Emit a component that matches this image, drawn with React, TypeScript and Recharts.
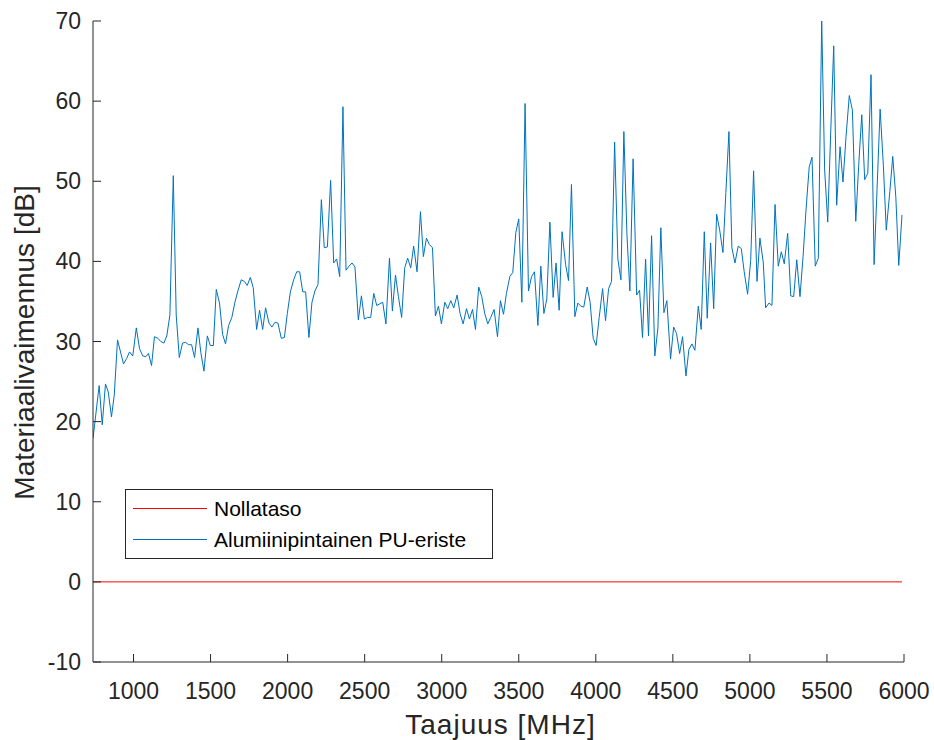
import { Label, Legend, Line, LineChart, XAxis, YAxis } from "recharts";

const BLUE = "#0072BD";
const RED = "#FF0000";
const INK = "#262626";
const FONT = "'Liberation Sans', Arial, Helvetica, sans-serif";

// Taajuus [MHz]
const freqs = [
  737, 777, 797, 818, 836, 857, 875, 896, 935, 956, 974, 995, 1018, 1039, 1060, 1080, 1097, 1117, 1136, 1158,
  1177, 1197, 1216, 1236, 1258, 1277, 1297, 1318, 1338, 1357, 1377, 1396, 1418, 1437, 1457, 1479, 1498, 1518, 1537, 1558,
  1578, 1597, 1617, 1638, 1658, 1677, 1699, 1719, 1738, 1758, 1777, 1799, 1818, 1838, 1857, 1879, 1898, 1918, 1937, 1959,
  1979, 1998, 2018, 2039, 2059, 2078, 2098, 2117, 2138, 2158, 2177, 2197, 2219, 2238, 2258, 2279, 2299, 2318, 2338, 2359,
  2379, 2398, 2418, 2437, 2459, 2479, 2498, 2518, 2539, 2559, 2578, 2598, 2617, 2638, 2661, 2680, 2700, 2719, 2740, 2760,
  2779, 2799, 2818, 2840, 2862, 2881, 2901, 2920, 2940, 2959, 2979, 2998, 3020, 3039, 3059, 3078, 3100, 3119, 3139, 3161,
  3180, 3200, 3219, 3240, 3260, 3279, 3299, 3318, 3340, 3362, 3381, 3401, 3420, 3442, 3461, 3481, 3500, 3520, 3541, 3563,
  3583, 3602, 3624, 3643, 3663, 3682, 3702, 3723, 3742, 3762, 3781, 3804, 3823, 3842, 3864, 3883, 3903, 3922, 3944, 3963,
  3983, 4002, 4022, 4044, 4063, 4083, 4102, 4122, 4143, 4163, 4182, 4202, 4221, 4242, 4265, 4284, 4303, 4323, 4342, 4362,
  4383, 4403, 4422, 4442, 4461, 4485, 4505, 4524, 4544, 4563, 4585, 4604, 4624, 4643, 4665, 4684, 4704, 4723, 4745, 4765,
  4784, 4804, 4825, 4844, 4864, 4883, 4903, 4924, 4944, 4963, 4985, 5005, 5024, 5046, 5065, 5087, 5102, 5124, 5143, 5163,
  5184, 5204, 5223, 5245, 5265, 5284, 5304, 5325, 5345, 5364, 5385, 5403, 5424, 5444, 5466, 5485, 5505, 5524, 5544, 5563,
  5585, 5604, 5624, 5645, 5665, 5687, 5706, 5726, 5745, 5765, 5786, 5806, 5825, 5845, 5866, 5885, 5908, 5927, 5947, 5966,
  5987,
];

// Materiaalivaimennus [dB], alumiinipintainen PU-eriste
const vaimennus = [
  17.9, 24.5, 19.6, 24.7, 23.7, 20.6, 23.3, 30.2, 27.2, 27.9, 28.7, 28.2, 31.7, 29.1, 28.2, 28.1, 28.5, 27.0, 30.6, 30.4,
  30.0, 29.8, 30.7, 33.3, 50.7, 33.3, 28.0, 29.8, 29.9, 29.6, 29.6, 28.0, 31.7, 28.6, 26.3, 30.7, 29.5, 29.5, 36.5, 34.8,
  30.9, 29.7, 32.0, 33.0, 34.9, 36.3, 37.7, 37.5, 37.0, 38.0, 36.7, 31.5, 33.9, 31.5, 34.2, 32.3, 31.8, 32.4, 32.3, 30.4,
  30.5, 33.5, 36.2, 37.7, 38.7, 38.7, 36.2, 36.2, 30.5, 34.9, 36.3, 37.1, 47.7, 41.7, 41.8, 50.1, 39.8, 40.3, 38.1, 59.3,
  38.9, 39.4, 39.8, 39.3, 32.7, 35.7, 32.8, 33.0, 33.0, 36.0, 34.5, 34.7, 34.9, 32.2, 40.4, 33.8, 38.3, 35.6, 33.0, 39.2,
  40.4, 39.2, 41.9, 38.7, 46.2, 40.6, 42.9, 42.1, 41.7, 33.2, 34.4, 32.2, 34.9, 34.1, 35.1, 34.2, 35.8, 33.5, 32.2, 34.1,
  32.8, 34.0, 31.5, 36.8, 35.6, 33.5, 32.2, 33.0, 34.0, 30.6, 35.1, 33.4, 36.0, 38.1, 38.6, 43.6, 45.3, 34.9, 59.7, 36.3,
  38.1, 38.7, 32.0, 39.4, 33.5, 35.3, 44.9, 35.5, 39.8, 33.9, 43.7, 39.6, 37.6, 49.6, 33.1, 34.8, 34.4, 34.3, 36.8, 34.9,
  30.4, 29.5, 33.0, 36.6, 32.6, 36.6, 37.5, 54.9, 40.3, 37.7, 56.2, 43.3, 36.3, 52.8, 35.8, 36.4, 30.5, 40.3, 30.7, 43.2,
  28.2, 31.7, 44.2, 33.6, 35.1, 27.8, 31.8, 31.0, 28.5, 30.6, 25.7, 29.0, 29.7, 28.9, 34.4, 31.5, 43.7, 32.9, 42.3, 34.1,
  45.9, 43.9, 41.1, 48.6, 56.2, 41.7, 39.8, 41.9, 41.6, 38.7, 35.9, 40.1, 51.3, 37.5, 42.9, 39.8, 34.2, 34.8, 34.5, 47.1,
  39.4, 41.2, 39.7, 43.5, 35.7, 35.6, 40.2, 35.6, 40.6, 46.4, 51.8, 53.0, 39.4, 40.4, 70.0, 51.4, 44.9, 55.9, 66.9, 47.0,
  54.3, 49.9, 55.6, 60.7, 58.9, 45.0, 52.0, 58.3, 50.2, 51.0, 63.3, 39.6, 49.0, 59.0, 52.0, 43.9, 48.7, 53.1, 48.0, 39.5,
  45.8,
];

const nollataso = 0;
const xTicks = [1000, 1500, 2000, 2500, 3000, 3500, 4000, 4500, 5000, 5500, 6000];
const yTicks = [-10, 0, 10, 20, 30, 40, 50, 60, 70];
const names = ["Nollataso", "Alumiinipintainen PU-eriste"];

const rows = freqs.map((f, i) => ({ f, v: vaimennus[i] }));
const zeroRows = [
  { f: freqs[0], z: nollataso },
  { f: freqs[freqs.length - 1], z: nollataso },
];

function XTick({ x, y, payload }: any) {
  return (
    <g>
      <line x1={x} y1={y} x2={x} y2={y - 8} stroke={INK} />
      <text x={x} y={y + 37} textAnchor="middle" fontSize={23} fill={INK} fontFamily={FONT}>
        {payload.value}
      </text>
    </g>
  );
}

function YTick({ x, y, payload }: any) {
  return (
    <g>
      <line x1={x} y1={y} x2={x + 8} y2={y} stroke={INK} />
      <text x={x - 12} y={y + 8} textAnchor="end" fontSize={23} fill={INK} fontFamily={FONT}>
        {payload.value}
      </text>
    </g>
  );
}

function LegendBox() {
  return (
    <svg width={368} height={70} style={{ display: "block" }}>
      <rect x={0.5} y={0.5} width={367} height={69} fill="#fff" stroke={INK} />
      <line x1={8} x2={82} y1={19.5} y2={19.5} stroke={RED} />
      <text x={89} y={19.5} dy="0.36em" fontSize={21} fill="#000" fontFamily={FONT}>
        {names[0]}
      </text>
      <line x1={8} x2={82} y1={50.5} y2={50.5} stroke={BLUE} />
      <text x={89} y={50.5} dy="0.36em" fontSize={21} fill="#000" fontFamily={FONT}>
        {names[1]}
      </text>
    </svg>
  );
}

export default function App() {
  return (
    <div style={{ position: "absolute", left: 0, top: 0, width: 934, height: 740, background: "#fff" }}>
      <LineChart
        width={934}
        height={740}
        data={rows}
        margin={{ top: 21, right: 30, bottom: 0, left: 0 }}
      >
        <XAxis
          dataKey="f"
          type="number"
          domain={[freqs[0], 6000]}
          ticks={xTicks}
          interval={0}
          height={78}
          tickSize={0}
          tickMargin={0}
          tickLine={false}
          tick={<XTick />}
          axisLine={{ stroke: INK, strokeWidth: 1 }}
          allowDataOverflow
        >
          <Label
            content={({ viewBox }: any) => (
              <text
                x={viewBox.x + viewBox.width / 2 + 2}
                y={viewBox.y + 72}
                textAnchor="middle"
                fontSize={28}
                letterSpacing={1}
                fill={INK}
                fontFamily={FONT}
              >
                Taajuus [MHz]
              </text>
            )}
          />
        </XAxis>
        <YAxis
          type="number"
          domain={[-10, 70]}
          ticks={yTicks}
          interval={0}
          width={93}
          tickSize={0}
          tickMargin={0}
          tickLine={false}
          tick={<YTick />}
          axisLine={{ stroke: INK, strokeWidth: 1 }}
          allowDataOverflow
        >
          <Label
            content={({ viewBox }: any) => {
              const cx = viewBox.x + 34;
              const cy = viewBox.y + viewBox.height / 2 + 1;
              return (
                <text
                  x={cx}
                  y={cy}
                  transform={`rotate(-90 ${cx} ${cy})`}
                  textAnchor="middle"
                  fontSize={28}
                  fill={INK}
                  fontFamily={FONT}
                >
                  Materiaalivaimennus [dB]
                </text>
              );
            }}
          />
        </YAxis>
        <Legend
          layout="vertical"
          align="center"
          verticalAlign="middle"
          content={<LegendBox />}
          wrapperStyle={{ left: 125, top: 489, width: 368, height: 70 }}
        />
        <Line
          data={zeroRows}
          dataKey="z"
          name={names[0]}
          stroke={RED}
          strokeWidth={1}
          dot={false}
          isAnimationActive={false}
        />
        <Line
          dataKey="v"
          name={names[1]}
          stroke={BLUE}
          strokeWidth={1}
          dot={false}
          strokeLinejoin="round"
          isAnimationActive={false}
        />
      </LineChart>
    </div>
  );
}
